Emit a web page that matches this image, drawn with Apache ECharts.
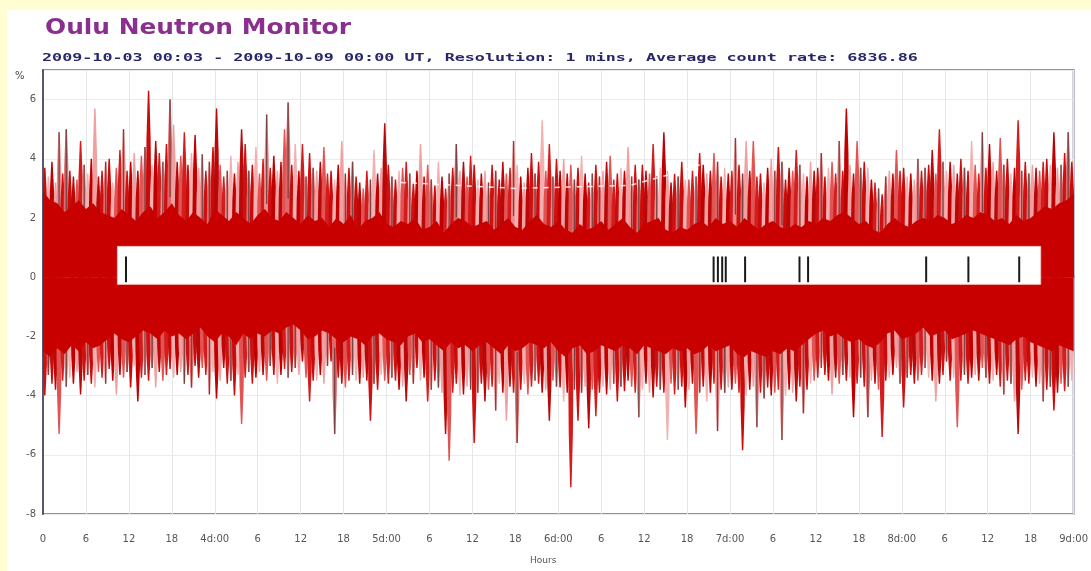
<!DOCTYPE html>
<html>
<head>
<meta charset="utf-8">
<script src="https://cdn.jsdelivr.net/npm/echarts@6/dist/echarts.min.js"></script>
<style>
html,body{margin:0;padding:0;background:#fffdd2;}
#chart{width:1091px;height:571px;}
</style>
</head>
<body>
<div id="chart"></div>
<script>
// ---- data (hours since 2009-10-03 00:00 UT; values in %) ----
// 30-minute upper spike extremes (288 bins)
const spikeHi = [3.7,3.4, 3.9,3.2, 4.9,3.5, 5.0,3.6, 3.4,3.3, 4.6,3.8, 3.5,4.0, 5.7,3.4, 3.6,3.9, 4.0,3.2,
 3.7,4.3, 5.0,3.6, 3.9,4.2, 3.6,4.1, 4.4,6.3, 3.8,4.6, 4.2,3.9, 4.5,6.0, 5.15,3.9, 4.1,4.9,
 3.8,4.2, 4.8,3.7, 4.15,3.6, 3.9,4.4, 5.7,3.8, 3.4,3.6, 4.1,3.5, 3.9,5.0, 4.5,3.6, 3.8,4.4,
 3.5,4.0, 5.5,3.7, 4.1,3.6, 3.9,5.0, 5.9,3.8, 4.5,3.6, 4.5,3.4, 4.2,3.7, 3.6,3.9, 4.4,3.5,
 3.6,3.3, 3.8,4.6, 3.5,3.7, 3.9,3.4, 3.2,3.0, 3.6,3.3, 4.3,3.5, 3.7,5.2, 3.8,3.4, 3.3,3.6,
 3.7,3.9, 3.5,3.2, 3.6,4.5, 3.4,3.8, 3.3,3.1, 3.9,3.4, 3.0,3.5, 3.7,4.5, 3.6,3.9, 3.4,4.1,
 3.8,3.3, 3.5,3.6, 3.2,3.8, 3.6,3.3, 3.9,3.5, 3.7,4.6, 3.8,3.4, 3.2,3.7, 4.2,3.5, 3.9,5.3,
 3.6,4.5, 3.4,4.0, 3.6,4.0, 3.5,3.8, 3.3,3.7, 4.1,3.5, 3.2,3.5, 3.8,3.4, 3.6,3.9, 4.1,3.3,
 3.5,3.7, 3.6,4.4, 3.4,3.8, 3.3,3.8, 3.6,3.5, 4.5,3.4, 3.7,4.9, 3.6,3.2, 3.5,3.4, 3.9,3.3,
 3.3,3.6, 3.4,4.2, 3.8,3.5, 3.6,4.2, 3.9,3.4, 3.7,3.5, 3.6,4.7, 3.8,3.5, 4.6,3.6, 4.6,3.4,
 3.5,3.2, 3.7,4.0, 3.6,4.4, 3.9,3.3, 3.7,3.6, 4.3,3.8, 3.5,3.4, 3.9,3.6, 3.7,4.2, 3.4,3.7,
 3.9,3.5, 4.6,3.6, 5.7,3.8, 3.5,4.6, 3.7,3.9, 3.7,3.3, 3.2,3.0, 2.8,3.4, 3.6,3.5, 4.3,3.6,
 3.7,3.4, 3.5,3.3, 4.0,3.6, 3.7,3.8, 4.3,3.5, 5.0,3.9, 3.6,3.9, 3.8,3.5, 4.0,3.7, 3.6,4.6,
 3.8,3.5, 4.9,3.7, 4.5,3.9, 3.6,4.7, 3.8,4.0, 3.5,3.7, 5.3,3.6, 3.9,3.5, 3.8,3.7, 3.6,3.9,
 4.0,3.8, 4.9,3.7, 3.8,4.2, 4.9,3.9];
// 30-minute lower spike extremes (288 bins)
const spikeLo = [-4.0,-3.3, -3.6,-3.8, -5.3,-3.5, -3.7,-3.4, -3.6,-3.2, -3.96,-3.5, -3.3,-3.6, -3.73,-3.2, -3.4,-3.6, -3.1,-3.5,
 -3.96,-3.3, -3.4,-3.2, -3.73,-3.0, -4.2,-3.4, -3.3,-3.5, -3.07,-3.73, -3.2,-3.5, -3.3,-3.1, -3.4,-3.3, -3.2,-3.6,
 -3.3,-3.73, -3.0,-3.4, -3.07,-3.3, -3.96,-3.2, -4.1,-3.5, -3.07,-3.6, -3.5,-4.0, -3.3,-4.96, -3.4,-3.2, -3.6,-3.4,
 -3.2,-3.3, -3.5,-3.0, -3.3,-3.6, -3.3,-3.1, -3.4,-3.2, -3.07,-3.3, -2.85,-3.4, -4.2,-3.5, -3.5,-3.3, -3.6,-3.0,
 -2.85,-5.3, -3.4,-3.6, -3.73,-3.5, -3.3,-3.5, -3.6,-3.4, -3.5,-4.85, -3.6,-3.8, -3.3,-3.5, -3.6,-3.4, -3.5,-3.8,
 -3.7,-4.2, -3.3,-3.6, -3.07,-3.5, -3.4,-4.2, -3.8,-3.5, -3.73,-3.9, -5.3,-6.2, -3.9,-3.6, -4.0,-3.96, -3.7,-3.8,
 -5.6,-3.9, -3.6,-4.2, -3.8,-3.7, -4.5,-3.6, -3.9,-4.85, -3.7,-3.9, -5.6,-3.8, -3.6,-3.96, -3.7,-3.5, -3.6,-3.9,
 -3.8,-4.85, -3.5,-3.7, -3.73,-4.2, -3.9,-7.1, -3.8,-4.85, -3.9,-3.7, -5.1,-3.8, -4.7,-3.9, -3.7,-3.96, -3.8,-3.6,
 -4.2,-3.7, -3.85,-3.5, -3.7,-3.9, -4.73,-3.8, -3.6,-3.9, -4.06,-3.7, -3.8,-3.9, -5.5,-3.6, -3.96,-3.8, -3.7,-4.4,
 -3.8,-3.6, -5.3,-3.9, -3.7,-4.2, -3.9,-3.6, -5.2,-3.8, -3.9,-3.73, -3.8,-3.6, -3.9,-5.85, -4.0,-3.8, -3.7,-5.07,
 -3.9,-4.1, -3.73,-4.0, -3.9,-3.8, -5.5,-4.0, -3.8,-3.9, -4.2,-3.7, -4.6,-3.8, -3.6,-3.5, -3.4,-3.07, -3.3,-3.5,
 -3.96,-3.4, -3.6,-3.3, -3.5,-3.4, -4.73,-3.6, -3.4,-3.7, -4.73,-3.5, -3.6,-3.8, -5.4,-3.5, -3.4,-3.3, -3.07,-3.6,
 -4.4,-3.4, -3.3,-3.6, -3.5,-3.3, -3.07,-3.4, -3.5,-4.2, -3.6,-3.3, -2.85,-3.5, -3.4,-5.07, -3.5,-3.3, -3.6,-3.4,
 -3.3,-3.5, -3.07,-3.4, -3.6,-3.5, -3.3,-3.7, -3.96,-3.5, -3.6,-4.2, -5.3,-3.8, -3.5,-3.6, -3.4,-3.7, -3.6,-4.2,
 -3.8,-3.7, -4.5,-3.9, -3.6,-3.85, -3.7,-3.5];
// hourly solid-core envelope (145 points, hour 0..144)
const coreHi = [2.9,2.6,2.5,2.2,2.4,2.6,2.3,2.5,2.2,2.1,
 2.0,2.3,2.1,1.9,2.2,2.4,2.0,2.2,2.5,2.1,
 1.9,2.2,2.0,1.8,2.3,2.1,1.9,2.2,2.0,1.8,
 2.1,2.3,2.0,1.9,2.2,2.0,1.8,2.1,1.9,2.0,
 1.7,2.0,1.8,2.1,1.6,1.9,2.0,2.2,1.8,1.7,
 1.9,1.8,2.0,1.6,1.7,1.9,1.5,1.8,2.0,1.9,
 1.7,1.8,1.9,1.6,1.8,2.0,1.7,1.6,1.9,2.1,
 1.8,1.7,1.9,1.6,1.5,1.8,1.6,1.7,1.9,1.6,
 1.8,2.0,1.7,1.5,1.8,1.9,2.0,1.6,1.5,1.7,
 1.6,1.8,1.9,1.7,2.0,1.8,1.9,1.7,2.0,1.8,
 1.6,1.8,1.9,1.7,1.6,1.8,1.7,1.9,1.8,2.0,
 1.9,2.1,2.2,2.0,1.8,1.9,1.6,1.5,1.8,2.0,
 1.8,1.7,1.9,2.0,1.9,2.1,2.0,1.8,1.9,2.1,
 2.0,2.2,2.1,1.9,2.0,1.8,2.1,1.9,2.0,2.2,
 2.4,2.3,2.5,2.6,2.8];
const coreLo = [-2.5,-2.7,-2.4,-2.6,-2.3,-2.5,-2.2,-2.4,-2.3,-2.1,
 -1.9,-2.1,-2.2,-2.0,-1.8,-1.9,-2.1,-1.8,-2.0,-1.9,
 -2.1,-1.9,-1.7,-2.0,-2.2,-1.9,-2.0,-2.3,-1.9,-2.1,
 -1.9,-2.0,-1.8,-1.9,-1.7,-1.6,-1.8,-2.1,-2.0,-1.8,
 -1.9,-2.1,-2.2,-2.0,-2.1,-2.3,-2.0,-1.9,-2.1,-2.2,
 -2.3,-2.0,-1.9,-2.2,-2.1,-2.3,-2.5,-2.2,-2.4,-2.3,
 -2.5,-2.3,-2.2,-2.4,-2.6,-2.3,-2.5,-2.4,-2.2,-2.3,
 -2.4,-2.2,-2.5,-2.7,-2.4,-2.3,-2.6,-2.5,-2.3,-2.4,
 -2.5,-2.3,-2.4,-2.6,-2.3,-2.4,-2.5,-2.6,-2.4,-2.5,
 -2.4,-2.6,-2.5,-2.3,-2.5,-2.4,-2.3,-2.6,-2.7,-2.5,
 -2.6,-2.7,-2.5,-2.6,-2.4,-2.5,-2.3,-2.1,-1.9,-1.8,
 -2.0,-1.9,-2.1,-2.2,-2.1,-2.3,-2.4,-2.2,-1.9,-1.8,
 -2.1,-2.0,-1.9,-1.7,-2.0,-1.9,-1.8,-2.1,-2.0,-1.9,
 -1.8,-1.9,-2.0,-2.1,-2.2,-2.3,-2.1,-2.0,-2.2,-2.3,
 -2.4,-2.5,-2.3,-2.4,-2.5];
// white overlay strip: [startHour, endHour, topValue, bottomValue]
const stripRange = [10.4, 139.4, 1.04, -0.24];
// black event marks inside the strip (hours)
const eventHours = [11.6, 93.7, 94.3, 94.9, 95.4, 98.1, 105.7, 106.9, 123.4, 129.3, 136.4];
// faint white dashed trace in upper band
const dashHours = [50, 58, 66, 74, 82, 88, 93];
const dashValues = [3.2, 3.1, 3.0, 3.05, 3.1, 3.5, 3.9];
// axis
const dayLabels = ['0', '4d:00', '5d:00', '6d:00', '7d:00', '8d:00', '9d:00'];

// ---- chart ----
const pal = ['#cc0a0a','#f0a0a0','#d41c1c','#e06a6a','#c00000','#e25454','#d01010','#f3b0b0','#b80808','#ec8c8c'];
const slot = i => (i * 7 + (i >> 2)) % pal.length;
const isDark = i => slot(i) === 3 || slot(i) === 9;
const spikeData = spikeHi.map((v, i) => [i * 0.5 + 0.25, v, spikeLo[i]]);
const TICK_TOP = 0.7, TICK_BOTTOM = -0.17;

function spikeShape(base, tip) {
  const s = base[1] + 0.74 * (tip[1] - base[1]);
  const x = base[0];
  return [[x - 3.4, base[1]], [x + 3.4, base[1]], [x + 2.1, s], [x + 0.7, tip[1]], [x - 0.7, tip[1]], [x - 2.1, s]];
}
function darkLine(base, tip) {
  const s = base[1] + 0.45 * (tip[1] - base[1]);
  return {type: 'line', shape: {x1: base[0], y1: s, x2: tip[0], y2: tip[1]}, style: {stroke: '#7a4242', lineWidth: 1.3}};
}

const chart = echarts.init(document.getElementById('chart'), null, {renderer: 'canvas'});
chart.setOption({
  animation: false,
  backgroundColor: 'transparent',
  graphic: [
    {type: 'rect', z: -10, shape: {x: 7, y: 10, width: 1084, height: 561}, style: {fill: '#ffffff'}},
    {type: 'text', x: 45, y: 17, scaleX: 1.13, style: {text: 'Oulu Neutron Monitor', font: 'bold 22px "DejaVu Sans"', fill: '#8b2f8f', verticalAlign: 'top'}},
    {type: 'text', x: 42, y: 53, scaleX: 1.52, style: {text: '2009-10-03 00:03 - 2009-10-09 00:00 UT, Resolution: 1 mins, Average count rate: 6836.86', font: 'bold 11px "DejaVu Sans Mono"', fill: '#27276a', verticalAlign: 'top'}},
    {type: 'text', x: 15, y: 71, style: {text: '%', font: '10px "DejaVu Sans"', fill: '#444', verticalAlign: 'top'}},
    {type: 'text', x: 530, y: 556, style: {text: 'Hours', font: '9px "DejaVu Sans"', fill: '#555', verticalAlign: 'top'}}
  ],
  grid: {left: 43, right: 8, top: 70, bottom: 57, show: true, borderColor: '#9090a4', borderWidth: 2, backgroundColor: '#fff'},
  xAxis: {
    type: 'value', min: 0, max: 144, interval: 6,
    axisLine: {show: true, lineStyle: {color: '#55586c', width: 2}},
    axisTick: {show: false},
    axisLabel: {
      margin: 20, color: '#555', fontSize: 10, fontFamily: 'DejaVu Sans',
      formatter: v => (v % 24 === 0 ? dayLabels[v / 24] : String(v % 24))
    },
    splitLine: {show: true, lineStyle: {color: '#e6e6e6', width: 1}}
  },
  yAxis: {
    type: 'value', min: -8, max: 7, interval: 2,
    axisLine: {show: true, lineStyle: {color: '#55586c', width: 2}},
    axisTick: {show: false},
    axisLabel: {margin: 7, color: '#555', fontSize: 10, fontFamily: 'DejaVu Sans', showMaxLabel: false,
      formatter: v => (v === 7 ? '' : String(v))},
    splitLine: {show: true, lineStyle: {color: '#ececec', width: 1}}
  },
  series: [
    {
      type: 'custom', z: 1, silent: true, clip: true,
      encode: {x: 0, y: [1, 2]},
      data: spikeData,
      renderItem: (params, api) => {
        const x = api.value(0);
        const top = api.coord([x, api.value(1)]);
        const bot = api.coord([x, api.value(2)]);
        const base = api.coord([x, 0]);
        const i = params.dataIndex;
        const kids = [
          {type: 'polygon', shape: {points: spikeShape(base, top)}, style: {fill: pal[slot(i)]}},
          {type: 'polygon', shape: {points: spikeShape(base, bot)}, style: {fill: pal[slot(i + 5)]}}
        ];
        if (isDark(i)) kids.push(darkLine(base, top));
        if (isDark(i + 5)) kids.push(darkLine(base, bot));
        return {type: 'group', children: kids};
      }
    },
    {
      type: 'line', z: 2, silent: true, symbol: 'none',
      data: coreHi.map((v, h) => [h, v]),
      lineStyle: {width: 0}, areaStyle: {color: '#c80000', opacity: 1}
    },
    {
      type: 'line', z: 2, silent: true, symbol: 'none',
      data: coreLo.map((v, h) => [h, v]),
      lineStyle: {width: 0}, areaStyle: {color: '#c80000', opacity: 1}
    },
    {
      type: 'line', z: 3, silent: true, symbol: 'none',
      data: dashHours.map((h, i) => [h, dashValues[i]]),
      lineStyle: {color: '#ffffff', width: 1.5, type: [5, 6], opacity: 0.85}
    },
    {
      type: 'custom', z: 4, silent: true,
      encode: {x: [0, 1], y: [2, 3]},
      data: [stripRange],
      renderItem: (params, api) => {
        const a = api.coord([api.value(0), api.value(2)]);
        const b = api.coord([api.value(1), api.value(3)]);
        return {type: 'rect', shape: {x: a[0], y: a[1], width: b[0] - a[0], height: b[1] - a[1]},
          style: {fill: '#ffffff', stroke: '#f2c4c4', lineWidth: 1}};
      }
    },
    {
      type: 'custom', z: 5, silent: true,
      encode: {x: 0},
      data: eventHours.map(h => [h]),
      renderItem: (params, api) => {
        const h = api.value(0);
        const t = api.coord([h, TICK_TOP]);
        const b = api.coord([h, TICK_BOTTOM]);
        return {type: 'line', shape: {x1: t[0], y1: t[1], x2: b[0], y2: b[1]}, style: {stroke: '#1a1a1a', lineWidth: 2}};
      }
    }
  ]
});
</script>
</body>
</html>
